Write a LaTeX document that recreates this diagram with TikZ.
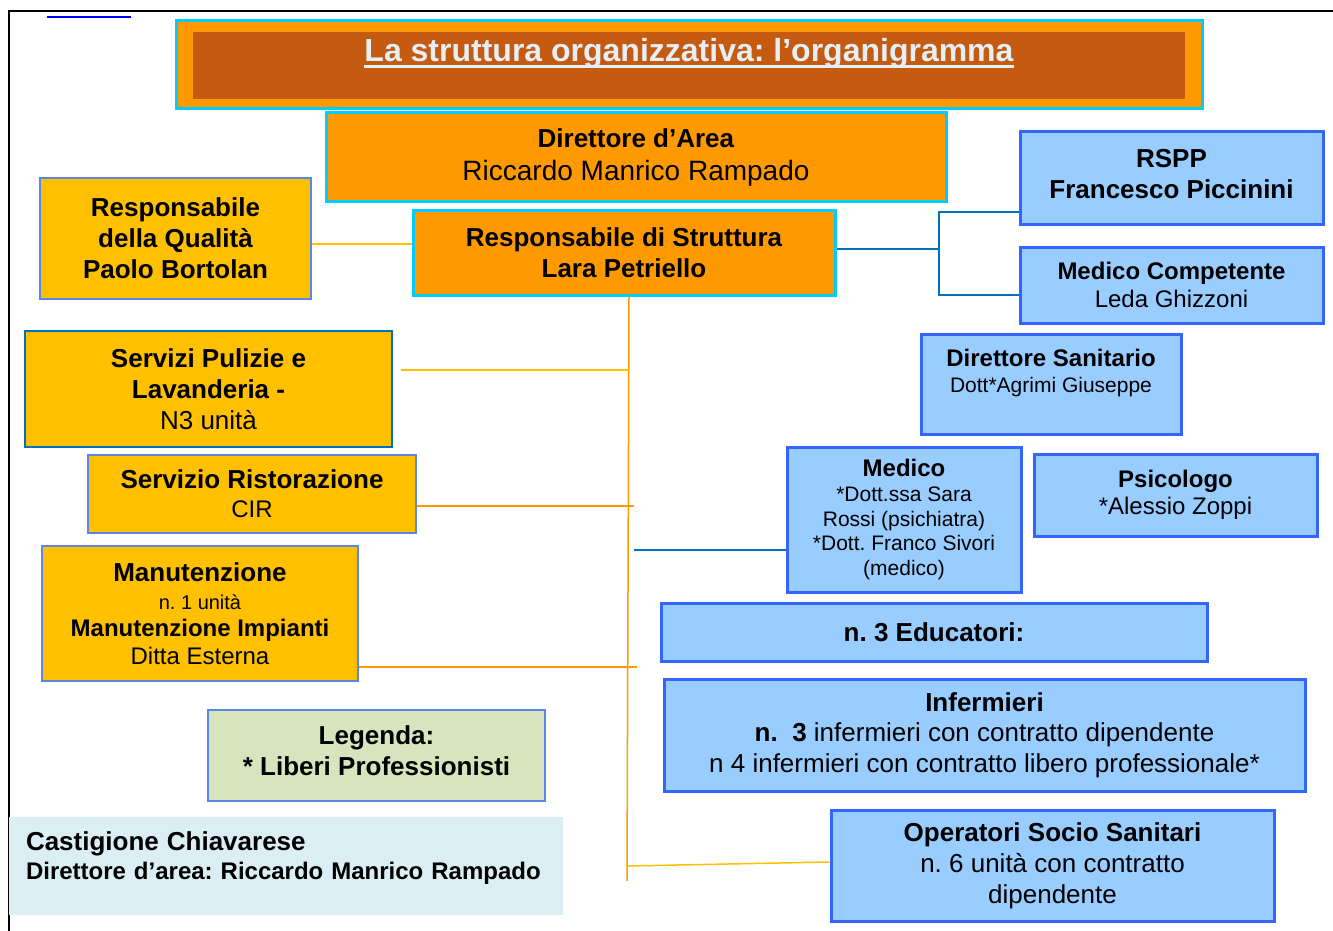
\documentclass[tikz,border=0pt]{standalone}
\usepackage{fontspec}
\setmainfont{Liberation Sans}
\usepackage{xcolor}
\usepackage{tikz}

\definecolor{arancio}{HTML}{FF9900}
\definecolor{mattone}{HTML}{C55A11}
\definecolor{oro}{HTML}{FFC000}
\definecolor{ciano}{HTML}{00CCFF}
\definecolor{azzurro}{HTML}{99CCFF}
\definecolor{bluvivo}{HTML}{3366FF}
\definecolor{bluscuro}{HTML}{0070C0}
\definecolor{verdino}{HTML}{D7E4BD}
\definecolor{celeste}{HTML}{DAEEF3}
\definecolor{bordooro}{HTML}{5B86E5}
\definecolor{testotitolo}{HTML}{E6EEF6}

\newcommand{\fsz}[2]{\fontsize{#1}{#2}\selectfont}
\frenchspacing

\begin{document}
\begin{tikzpicture}[x=1pt, y=-1pt,
            capo/.style={draw=ciano, line width=3, fill=arancio, align=center},
            ufficio/.style={draw=bordooro, line width=1.5, fill=oro, align=center},
            sanita/.style={draw=bluvivo, line width=3, fill=azzurro, align=center},
            lineaoro/.style={oro, line width=1.5},
            lineaarancio/.style={arancio, line width=1.5},
            lineablu/.style={bluscuro, line width=1.5}]
        \useasboundingbox (0,0) rectangle (1333,931);

        % cornice della pagina
        \draw[line width=2.5] (9,931) -- (9,11) -- (1333,11);
        \draw[blue, line width=2] (47,17) -- (131,17);

        % titolo
        \node[draw=ciano, line width=3, fill=arancio, minimum width=1026, minimum height=88] (cornice) at (689,65) {};
        \node[fill=mattone, minimum width=992, minimum height=67] (fondo) at (689,65.5) {};
        \node[anchor=base, inner sep=0, text=testotitolo, font=\bfseries\fsz{32}{38}] (titolo) at (689,62) {La struttura organizzativa: l’organigramma};
        \draw[testotitolo, line width=3] ([yshift=-4.5]titolo.base west) -- ([yshift=-4.5]titolo.base east);

        % direzione
        \node[capo, minimum width=620, minimum height=88, font=\fsz{26}{33}] (direttore) at (636,157) {\textbf{Direttore d’Area}\\{\fsz{28}{33}Riccardo Manrico Rampado}};
        \node[capo, minimum width=422, minimum height=85, font=\bfseries\fsz{26}{31}] (struttura) at (624,252.5) {Responsabile di Struttura\\Lara Petriello};

        % servizi
        \node[ufficio, minimum width=271, minimum height=121, font=\bfseries\fsz{26}{31}] (qualita) at (175.5,238.5) {Responsabile\\della Qualità\\Paolo Bortolan};
        \node[ufficio, draw=bluscuro, line width=2.5, minimum width=367, minimum height=116, font=\fsz{26}{31}] (pulizie) at (208.5,389) {\textbf{Servizi Pulizie e}\\\textbf{Lavanderia -}\\N3 unità};
        \node[ufficio, minimum width=328, minimum height=78, font=\fsz{24}{29}] (ristoro) at (252,494) {{\bfseries\fsz{26}{29}Servizio Ristorazione}\\CIR};
        \node[ufficio, minimum width=316, minimum height=135, font=\fsz{24}{27.5}] (manutenzione) at (200,613.5) {{\bfseries\fsz{26}{27.5}Manutenzione}\\{\fsz{20}{27.5}n. 1 unità}\\\textbf{Manutenzione Impianti}\\Ditta Esterna};
        \node[ufficio, fill=verdino, minimum width=337, minimum height=91, font=\bfseries\fsz{26}{31}] (legenda) at (376.5,755.5) {Legenda:\\{}* Liberi Professionisti\\[-22pt]\mbox{}};
        \node[fill=celeste, minimum width=554, minimum height=98, inner xsep=17, text width=520, align=left, font=\bfseries\fsz{24}{29}] (sede) at (286,866) {{\fsz{26}{29}Castigione Chiavarese}\\Direttore d’area: Riccardo Manrico Rampado\\[-8pt]\mbox{}};

        % area sanitaria
        \node[sanita, minimum width=303, minimum height=92, font=\bfseries\fsz{26}{31}] (rspp) at (1171.5,178) {RSPP\\Francesco Piccinini\\[-22pt]\mbox{}};
        \node[sanita, minimum width=303, minimum height=76, font=\fsz{24}{28}] (medcomp) at (1171.5,285) {\textbf{Medico Competente}\\Leda Ghizzoni};
        \node[sanita, minimum width=260, minimum height=100, font=\fsz{21}{26}] (dirsan) at (1051,384) {{\bfseries\fsz{24}{26}Direttore Sanitario}\\Dott*Agrimi Giuseppe\\\mbox{}};
        \node[sanita, minimum width=234, minimum height=145, font=\fsz{21}{24.75}] (medico) at (904,519.5) {{\bfseries\fsz{24}{24.75}Medico}\\{}*Dott.ssa Sara\\Rossi (psichiatra)\\{}*Dott. Franco Sivori\\(medico)};
        \node[sanita, minimum width=283, minimum height=82, font=\fsz{24}{27}] (psicologo) at (1175.5,495) {\textbf{Psicologo}\\{}*Alessio Zoppi};
        \node[sanita, minimum width=546, minimum height=58, font=\bfseries\fsz{26}{31}] (educatori) at (934,632) {n. 3 Educatori:};
        \node[sanita, minimum width=641, minimum height=112, font=\fsz{26}{30.5}] (infermieri) at (984.5,735) {\textbf{Infermieri}\\\textbf{n.\ \ 3} infermieri con contratto dipendente\\n 4 infermieri con contratto libero professionale*};
        \node[sanita, minimum width=443, minimum height=111, font=\fsz{26}{31}] (oss) at (1052.5,865.5) {\textbf{Operatori Socio Sanitari}\\n. 6 unità con contratto\\dipendente};

        % collegamenti
        \draw[lineaoro] ([yshift=-5.5]qualita.east) -- ([yshift=-5.5]qualita.east -| struttura.west);

        \coordinate (snodo-su) at (939,212);
        \coordinate (snodo-giu) at (939,295);
        \draw[lineablu] ([yshift=3.5]struttura.east) -- ([yshift=3.5]struttura.east -| snodo-su);
        \draw[lineablu] ([yshift=-34]rspp.west) -- (snodo-su) -- (snodo-giu) -- ([yshift=-10]medcomp.west);

        \coordinate (tronco-su) at ([xshift=5]struttura.south);
        \coordinate (tronco-giu) at (627,881);
        \draw[lineaarancio] (tronco-su) -- (tronco-giu);
        \draw[lineaoro] ([xshift=8,yshift=19]pulizie.east) -- ([yshift=19]pulizie.east -| tronco-su);
        \draw[lineaarancio] ([yshift=-12]ristoro.east) -- ([xshift=5,yshift=-12]ristoro.east -| tronco-su);
        \draw[lineaarancio] ([yshift=-53.5]manutenzione.east) -- ([xshift=8,yshift=-53.5]manutenzione.east -| tronco-su);
        \draw[lineablu] ([yshift=-30.5]medico.west) -- ([xshift=5,yshift=-30.5]medico.west -| tronco-su);
        \draw[lineaoro] ([yshift=3.5]oss.west) -- ([yshift=-0.5]oss.west -| tronco-giu);
    \end{tikzpicture}
\end{document}
